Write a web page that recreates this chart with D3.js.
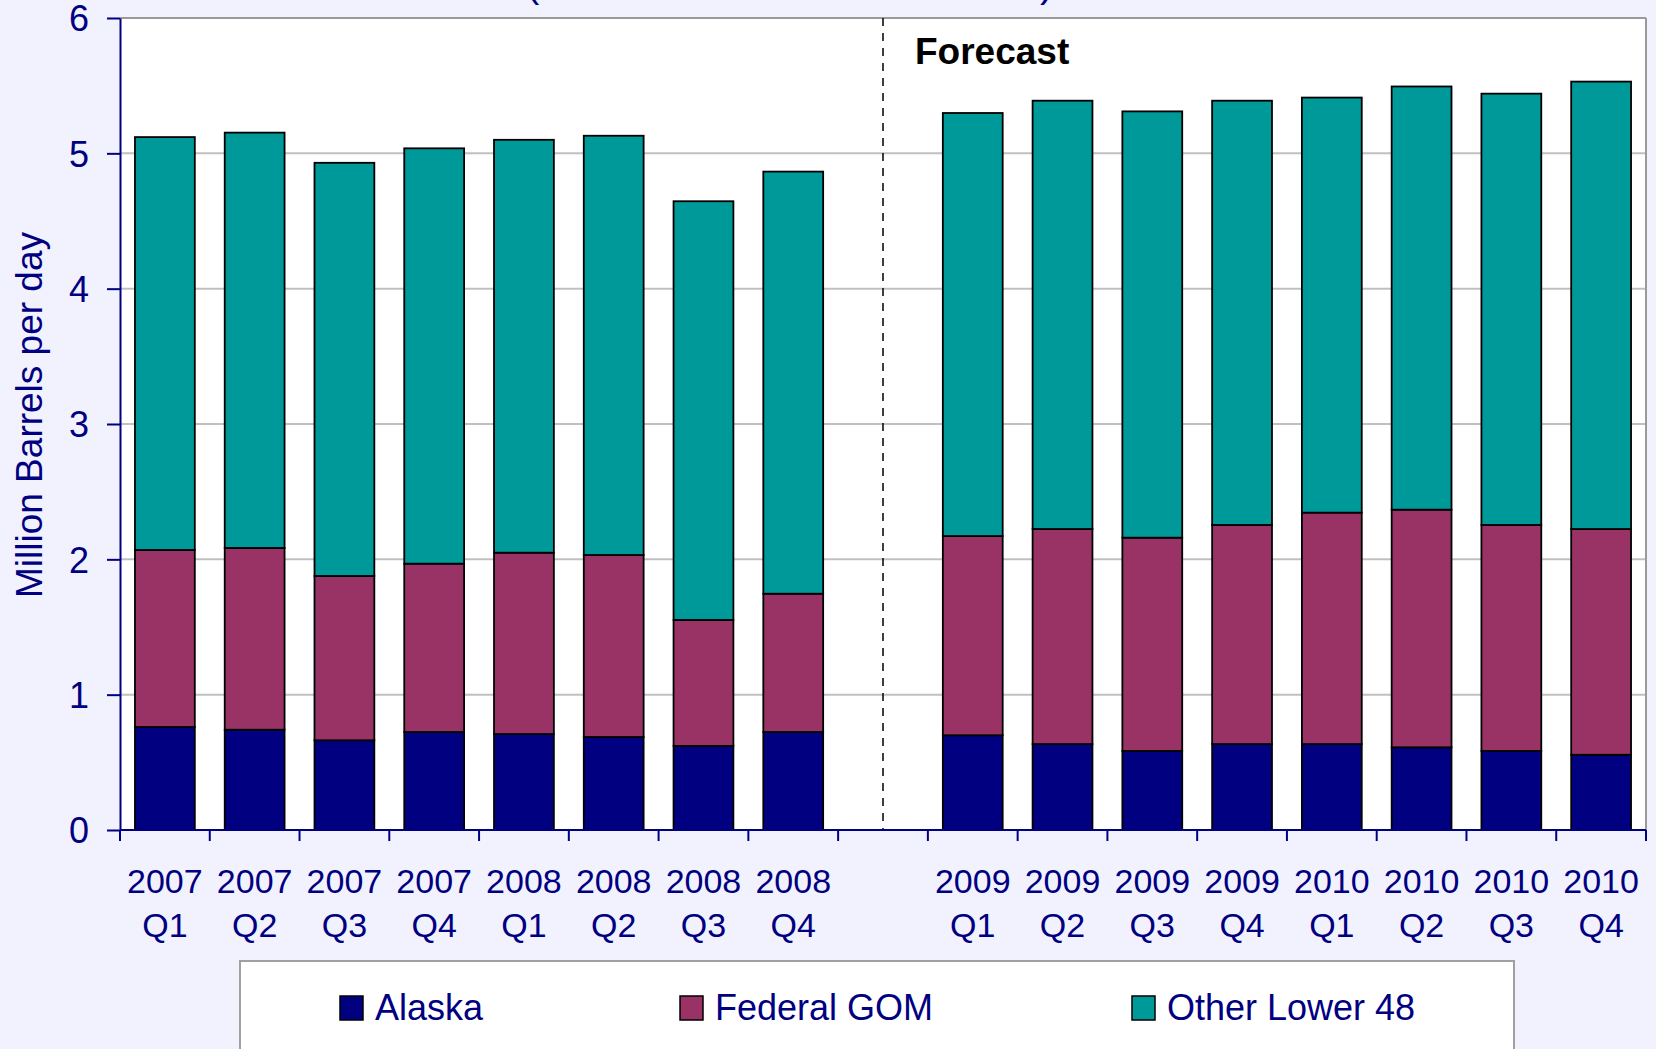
<!DOCTYPE html>
<html>
<head>
<meta charset="utf-8">
<script src="https://cdn.jsdelivr.net/npm/d3@7"></script>
<style>
  body { margin: 0; background: #f2f2fe; }
  svg { display: block; font-family: "Liberation Sans", Arial, sans-serif; }
</style>
</head>
<body>
<svg id="chart" width="1656" height="1049"></svg>
<script>
// 분기 라벨
var years    = ["2007", "2007", "2007", "2007", "2008", "2008", "2008", "2008",
                "2009", "2009", "2009", "2009", "2010", "2010", "2010", "2010"];
var quarters = ["Q1", "Q2", "Q3", "Q4", "Q1", "Q2", "Q3", "Q4",
                "Q1", "Q2", "Q3", "Q4", "Q1", "Q2", "Q3", "Q4"];

// 시리즈 값 (백만 배럴/일)
var alaska     = [0.761, 0.741, 0.663, 0.724, 0.709, 0.687, 0.621, 0.724,
                  0.700, 0.635, 0.584, 0.635, 0.635, 0.611, 0.584, 0.556];
var federalGOM = [1.308, 1.343, 1.214, 1.244, 1.340, 1.345, 0.931, 1.022,
                  1.472, 1.589, 1.576, 1.619, 1.710, 1.756, 1.670, 1.668];
var otherL48   = [3.051, 3.069, 3.053, 3.069, 3.051, 3.098, 3.094, 3.119,
                  3.126, 3.165, 3.150, 3.135, 3.067, 3.127, 3.187, 3.306];

var seriesNames = ["Alaska", "Federal GOM", "Other Lower 48"];
var yTicks = [0, 1, 2, 3, 4, 5, 6];
var forecastLabel = "Forecast";

var colors = ["#000080", "#993366", "#009999"];
var navy = "#000080";

var svg = d3.select("#chart");
var W = 1656, H = 1049;
var plot = { left: 120, right: 1646, top: 18, bottom: 830 };

svg.append("rect").attr("width", W).attr("height", H).attr("fill", "#f2f2fe");

// 잘린 제목의 괄호 끝부분 (원본에서도 위쪽이 잘려 있음)
svg.append("text").attr("x", 526).attr("y", -3).attr("font-size", 40)
    .attr("fill", navy).text("(");
svg.append("text").attr("x", 1040).attr("y", -3).attr("font-size", 40)
    .attr("fill", navy).text(")");

// 카테고리 키 (2008 Q4 뒤에 빈 칸 하나)
var keys = years.map(function(d, i) { return d + " " + quarters[i]; });
var domain = keys.slice(0, 8).concat(["gap"]).concat(keys.slice(8));

var x = d3.scaleBand()
    .domain(domain)
    .range([plot.left, plot.right])
    .paddingInner(0)
    .paddingOuter(0);

var y = d3.scaleLinear()
    .domain([0, 6])
    .range([plot.bottom, plot.top]);

// 플롯 영역
svg.append("rect")
    .attr("x", plot.left).attr("y", plot.top)
    .attr("width", plot.right - plot.left).attr("height", plot.bottom - plot.top)
    .attr("fill", "white");

// 그리드
svg.append("g").selectAll("line")
    .data(yTicks.filter(function(d) { return d > 0 && d < 6; }))
    .enter().append("line")
    .attr("x1", plot.left).attr("x2", plot.right)
    .attr("y1", function(d) { return y(d); }).attr("y2", function(d) { return y(d); })
    .attr("stroke", "#c0c0c0").attr("stroke-width", 2);

// 위, 오른쪽 테두리
svg.append("line").attr("x1", plot.left).attr("x2", plot.right)
    .attr("y1", y(6)).attr("y2", y(6)).attr("stroke", "#9a9a9a").attr("stroke-width", 2);
svg.append("line").attr("x1", plot.right).attr("x2", plot.right)
    .attr("y1", y(6)).attr("y2", y(0)).attr("stroke", "#9a9a9a").attr("stroke-width", 2);

// 누적 데이터
var table = keys.map(function(k, i) {
    return { key: k, "Alaska": alaska[i], "Federal GOM": federalGOM[i], "Other Lower 48": otherL48[i] };
});
var stacked = d3.stack().keys(seriesNames)(table);

var barW = x.bandwidth() * 2 / 3;
var off = (x.bandwidth() - barW) / 2;

svg.append("g").selectAll("g")
    .data(stacked)
    .enter().append("g")
    .attr("fill", function(d, i) { return colors[i]; })
    .selectAll("rect")
    .data(function(d) { return d; })
    .enter().append("rect")
    .attr("x", function(d) { return x(d.data.key) + off; })
    .attr("y", function(d) { return y(d[1]); })
    .attr("width", barW)
    .attr("height", function(d) { return y(d[0]) - y(d[1]); })
    .attr("stroke", "#000")
    .attr("stroke-width", 1.8);

// 예측 구분선
var gx = x("gap") + x.bandwidth() / 2;
svg.append("line")
    .attr("x1", gx).attr("x2", gx)
    .attr("y1", y(6)).attr("y2", y(0))
    .attr("stroke", "#000").attr("stroke-width", 1.5)
    .attr("stroke-dasharray", "8,7");

svg.append("text")
    .attr("x", gx + 32).attr("y", 64)
    .attr("font-size", 37).attr("font-weight", "bold").attr("fill", "#000")
    .text(forecastLabel);

// y축
var yAxis = svg.append("g")
    .attr("transform", "translate(" + plot.left + ",0)")
    .call(d3.axisLeft(y).tickValues(yTicks).tickFormat(d3.format("d"))
        .tickSize(13).tickSizeOuter(0).tickPadding(18));
yAxis.select(".domain").attr("stroke", navy).attr("stroke-width", 2);
yAxis.selectAll(".tick line").attr("stroke", navy).attr("stroke-width", 2);
yAxis.selectAll(".tick text")
    .attr("fill", navy).attr("font-size", 36)
    .attr("font-family", "Liberation Sans, Arial, sans-serif")
    .attr("dy", "0.36em");

svg.append("text")
    .attr("transform", "translate(42,415) rotate(-90)")
    .attr("text-anchor", "middle")
    .attr("font-size", 37).attr("fill", navy)
    .text("Million Barrels per day");

// x축
svg.append("line")
    .attr("x1", plot.left).attr("x2", plot.right)
    .attr("y1", y(0)).attr("y2", y(0))
    .attr("stroke", navy).attr("stroke-width", 2);

var bounds = domain.map(function(d) { return x(d); }).concat([x.range()[1]]);
svg.append("g").selectAll("line")
    .data(bounds)
    .enter().append("line")
    .attr("x1", function(d) { return d; }).attr("x2", function(d) { return d; })
    .attr("y1", y(0)).attr("y2", y(0) + 11)
    .attr("stroke", navy).attr("stroke-width", 2);

var xl = svg.append("g").selectAll("text")
    .data(keys)
    .enter().append("text")
    .attr("text-anchor", "middle")
    .attr("font-size", 34).attr("fill", navy);
xl.append("tspan")
    .attr("x", function(d) { return x(d) + x.bandwidth() / 2; })
    .attr("y", 893)
    .text(function(d, i) { return years[i]; });
xl.append("tspan")
    .attr("x", function(d) { return x(d) + x.bandwidth() / 2; })
    .attr("y", 937)
    .text(function(d, i) { return quarters[i]; });

// 범례
svg.append("rect")
    .attr("x", 240).attr("y", 961).attr("width", 1274).attr("height", 120)
    .attr("fill", "white").attr("stroke", "#a0a0a0").attr("stroke-width", 2);

var legendX = [340, 680, 1132];
var lg = svg.append("g").selectAll("g")
    .data(seriesNames)
    .enter().append("g")
    .attr("transform", function(d, i) { return "translate(" + legendX[i] + ",996)"; });
lg.append("rect")
    .attr("width", 23).attr("height", 24)
    .attr("fill", function(d, i) { return colors[i]; })
    .attr("stroke", "#000").attr("stroke-width", 1.5);
lg.append("text")
    .attr("x", 35).attr("y", 24)
    .attr("font-size", 36).attr("fill", navy)
    .text(function(d) { return d; });
</script>
</body>
</html>
